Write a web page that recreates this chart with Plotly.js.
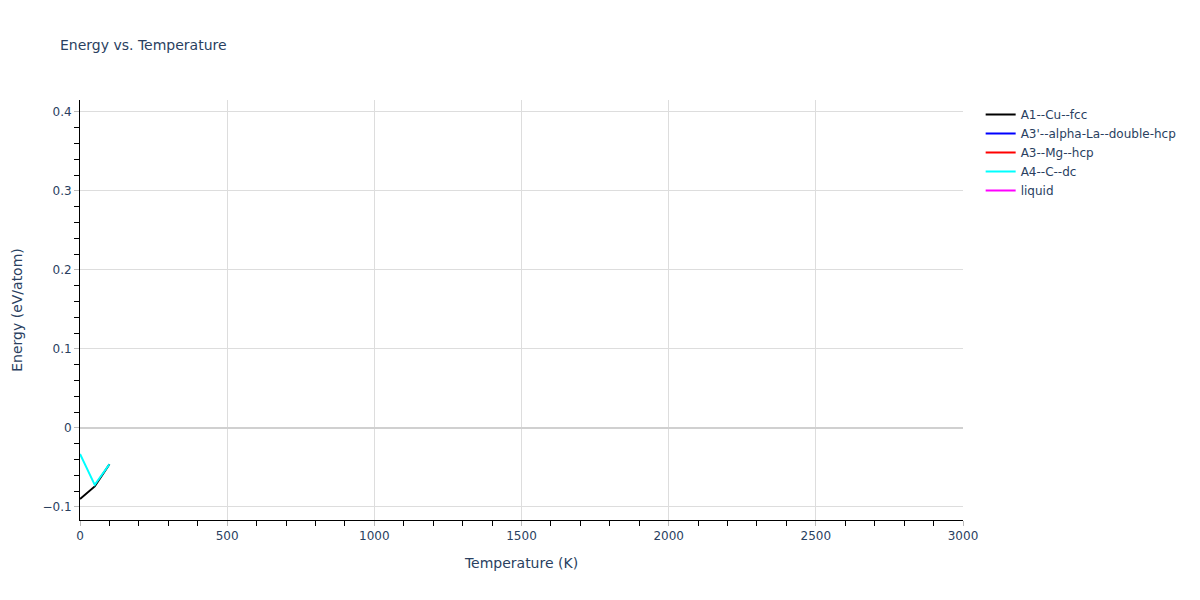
<!DOCTYPE html>
<html>
<head>
<meta charset="utf-8">
<script src="https://cdn.plot.ly/plotly-3.0.1.min.js"></script>
<style>
  body { margin: 0; }
  #energy_plot { width: 1200px; height: 600px; }
</style>
</head>
<body>
<div id="energy_plot"></div>
<script>
// phases and their energy curves (eV/atom) vs temperature (K)
const phase_names = ['A1--Cu--fcc', "A3'--alpha-La--double-hcp", 'A3--Mg--hcp', 'A4--C--dc', 'liquid'];
const phase_colors = ['black', 'blue', 'red', 'cyan', 'magenta'];

const fcc_temp = [0, 50, 100];
const fcc_energy = [-0.090, -0.074, -0.046];

// single points only: these phases draw no visible line
const dhcp_temp = [0];
const dhcp_energy = [-0.09];

const hcp_temp = [0];
const hcp_energy = [-0.09];

const dc_temp = [0, 50, 100];
const dc_energy = [-0.033, -0.072, -0.046];

const liquid_temp = [0];
const liquid_energy = [-0.09];

const phase_temps = [fcc_temp, dhcp_temp, hcp_temp, dc_temp, liquid_temp];
const phase_energies = [fcc_energy, dhcp_energy, hcp_energy, dc_energy, liquid_energy];

const data = phase_names.map((name, i) => ({
  x: phase_temps[i],
  y: phase_energies[i],
  name: name,
  type: 'scatter',
  mode: 'lines',
  line: { color: phase_colors[i], width: 2 },
  showlegend: true,
}));

const axis_common = {
  showline: true,
  linecolor: 'black',
  linewidth: 1,
  gridcolor: '#dddddd',
  zeroline: true,
  zerolinecolor: '#d0d0d0',
  zerolinewidth: 2,
  ticks: 'outside',
  ticklen: 5,
  tickcolor: '#bbbbbb',
  tickfont: { size: 12, color: '#2a3f5f' },
};

const layout = {
  title: { text: 'Energy vs. Temperature', font: { size: 14, color: '#2a3f5f' }, x: 0.05 },
  font: { family: '"DejaVu Sans", verdana, arial, sans-serif', color: '#2a3f5f' },
  paper_bgcolor: 'white',
  plot_bgcolor: 'white',
  margin: { l: 80, r: 237, t: 100, b: 80 },
  xaxis: Object.assign({}, axis_common, {
    title: { text: 'Temperature (K)', font: { size: 14 }, standoff: 15 },
    range: [0, 3000],
    dtick: 500,
    minor: { dtick: 100, ticks: 'outside', ticklen: 5, tickcolor: 'black', showgrid: false },
  }),
  yaxis: Object.assign({}, axis_common, {
    title: { text: 'Energy (eV/atom)', font: { size: 14 }, standoff: 16 },
    range: [-0.1165, 0.415],
    dtick: 0.1,
    minor: { dtick: 0.02, ticks: 'outside', ticklen: 5, tickcolor: 'black', showgrid: false },
  }),
  legend: { x: 1.02, y: 1, font: { size: 12 } },
  showlegend: true,
};

Plotly.newPlot('energy_plot', data, layout, { displayModeBar: false });
</script>
</body>
</html>
